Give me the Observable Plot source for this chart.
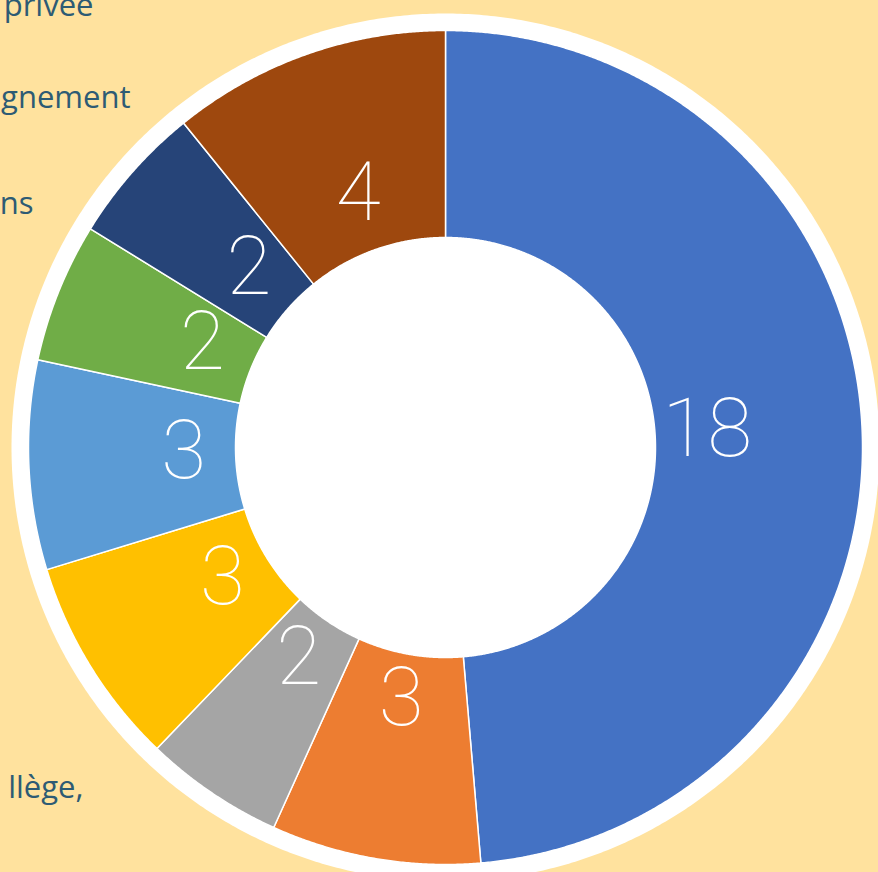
<!DOCTYPE html>
<html><head><meta charset="utf-8">
<script src="https://cdn.jsdelivr.net/npm/d3@7"></script>
<script src="https://cdn.jsdelivr.net/npm/@observablehq/plot@0.6"></script>
<style>html,body{margin:0;padding:0;background:#ffe29e;overflow:hidden}#chart svg{display:block}</style>
</head><body><div id="chart"></div>
<script>
// Data
const categories = ["Série 1","Série 2","Série 3","Série 4","Série 5","Série 6","Série 7","Série 8"];
const values = [18, 3, 2, 3, 3, 2, 2, 4];
const colors = ["#4472c4","#ed7d31","#a5a5a5","#ffc000","#5b9bd5","#70ad47","#264478","#9e480e"];
const legendFragments = ["privée","gnement","ns","llège,"];

// Layout
const W = 878, H = 872;
const cx = 445, cy = 447, R = 417;          // pixel centre and outer radius
const innerR = 210 / R, ringR = 434 / R, labelR = 262 / R;
const legendPos = [[93, 15], [130, 107], [33, 213], [83, 797]]; // pixel end/baseline

const toX = px => (px - cx) / R;
const toY = py => (cy - py) / R;

const pie = d3.pie().sort(null).value(d => d.value);
const arcs = pie(categories.map((c, i) => ({category: c, value: values[i]})));

function ringPoints(a0, a1, r0, r1, key) {
  const pts = [];
  const n = Math.max(2, Math.ceil((a1 - a0) / (Math.PI / 720)));
  for (let k = 0; k <= n; k++) { const a = a0 + (a1 - a0) * k / n; pts.push({key, x: r1 * Math.sin(a), y: r1 * Math.cos(a)}); }
  for (let k = n; k >= 0; k--) { const a = a0 + (a1 - a0) * k / n; pts.push({key, x: r0 * Math.sin(a), y: r0 * Math.cos(a)}); }
  pts.push(pts[0]);
  return pts;
}
const slicePts = arcs.flatMap(a => ringPoints(a.startAngle, a.endAngle, innerR, 1, a.data.category));
const disk = d3.range(0, 721).map(k => ({x: ringR * Math.sin(k * Math.PI / 360), y: ringR * Math.cos(k * Math.PI / 360)}));
const labels = arcs.map(a => { const m = (a.startAngle + a.endAngle) / 2; return {x: labelR * Math.sin(m), y: labelR * Math.cos(m), v: a.data.value}; });
const legend = legendFragments.map((t, i) => ({t, x: toX(legendPos[i][0]), y: toY(legendPos[i][1])}));

const chart = Plot.plot({
  width: W, height: H,
  margin: 0,
  style: {background: "#ffe29e", overflow: "hidden"},
  x: {domain: [toX(0), toX(W)], axis: null},
  y: {domain: [toY(H), toY(0)], axis: null},
  color: {domain: categories, range: colors},
  marks: [
    Plot.line(disk, {x: "x", y: "y", fill: "white", stroke: "none"}),
    Plot.line(slicePts, {x: "x", y: "y", z: "key", fill: "key", stroke: "white", strokeWidth: 1.5, strokeLinejoin: "round"}),
    Plot.text(labels, {x: "x", y: "y", dy: -7, text: d => String(d.v), fill: "white", fontSize: 82, fontWeight: 100, fontFamily: "Roboto, Lato, sans-serif", lineAnchor: "middle"}),
    Plot.text(legend, {x: "x", y: "y", text: "t", textAnchor: "end", lineAnchor: "bottom", fill: "#2d5b74", fontSize: 31, fontFamily: "'Open Sans', 'Noto Sans', sans-serif"})
  ]
});
document.getElementById("chart").append(chart);
</script>
</body></html>
